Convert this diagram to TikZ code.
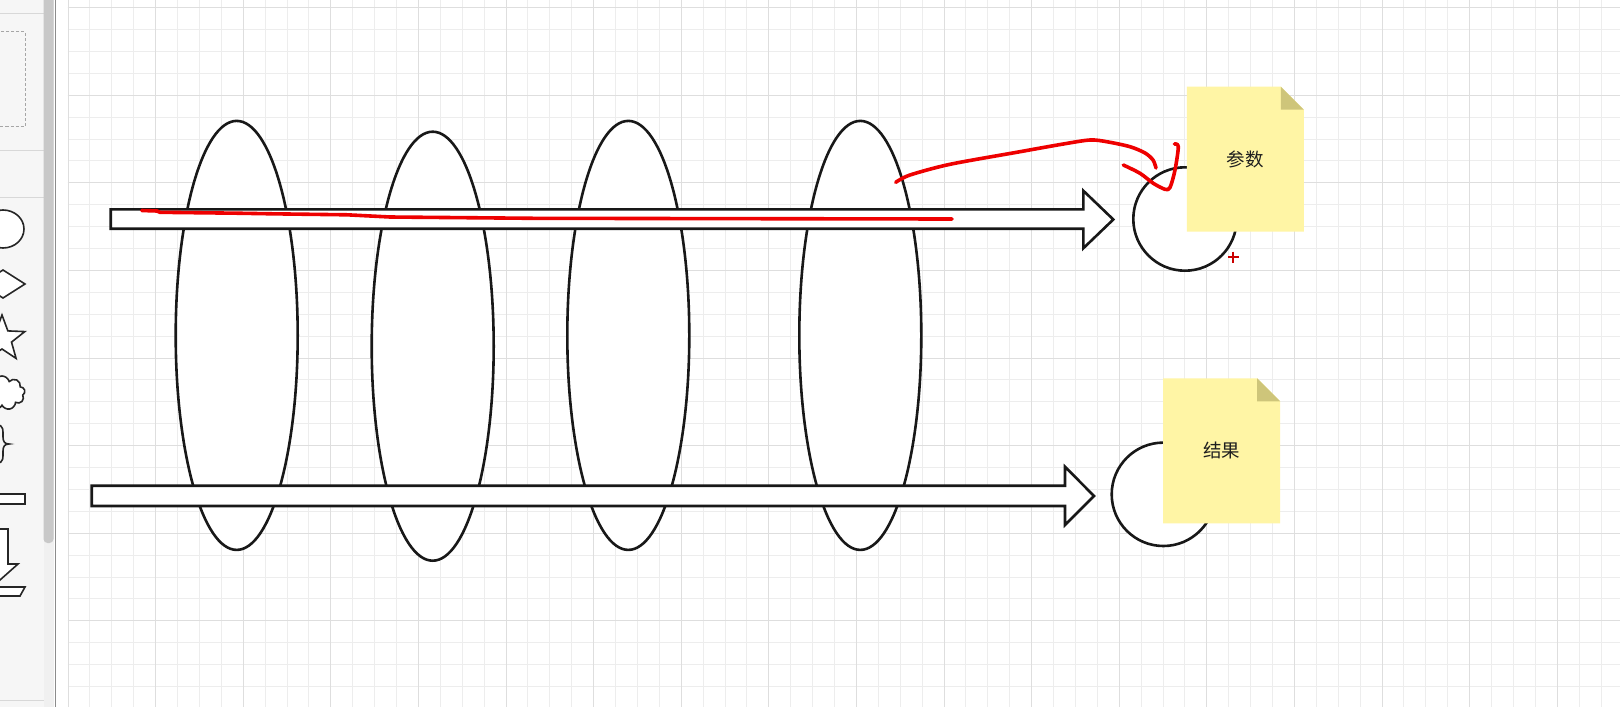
\documentclass[tikz,border=0pt]{standalone}
\usepackage{fontspec}
\newfontfamily\cjk{Noto Sans CJK SC}
\usepackage{tikz}
\usetikzlibrary{shapes.geometric, shapes.symbols}
\usepackage{xcolor}

\definecolor{gridminor}{RGB}{237,237,237}
\definecolor{gridmajor}{RGB}{222,222,222}
\definecolor{notefill}{RGB}{255,245,165}
\definecolor{notefold}{RGB}{206,197,122}
\definecolor{inkred}{RGB}{238,0,0}
\definecolor{panelgray}{RGB}{246,246,246}
\definecolor{panelline}{RGB}{216,216,216}
\definecolor{thumbgray}{RGB}{200,200,200}
\definecolor{outline}{RGB}{24,24,24}

\tikzset{
  hoop/.style={draw=outline, ellipse, fill=white, line width=2.6pt, minimum width=122, minimum height=429, inner sep=0},
  ring/.style={draw=outline, circle, fill=white, line width=2.6pt, minimum size=103.4, inner sep=0},
  blockarrow/.style={draw=outline, fill=white, line width=2.6pt, line join=miter},
  notebox/.style={minimum width=117, minimum height=145, inner sep=0, text=black!88,
    font=\cjk\fontsize{18.5}{20}\selectfont,
    path picture={
      \fill[notefill] (path picture bounding box.north west)
        -- ([xshift=-23pt]path picture bounding box.north east)
        -- ([yshift=-23pt]path picture bounding box.north east)
        -- (path picture bounding box.south east)
        -- (path picture bounding box.south west) -- cycle;
      \fill[notefold] ([xshift=-23pt]path picture bounding box.north east)
        -- ([yshift=-23pt]path picture bounding box.north east)
        -- ([xshift=-23pt,yshift=-23pt]path picture bounding box.north east) -- cycle;
    }},
  inkstroke/.style={draw=inkred, line width=3.6pt, line cap=round, line join=round},
  sideshape/.style={draw=black!85, fill=white, line width=1.6pt}
}

\begin{document}
\begin{tikzpicture}[x=1pt, y=-1pt]
\useasboundingbox (0,0) rectangle (1620,707);
\fill[white] (0,0) rectangle (1620,707);

% canvas grid
\foreach \i in {0,...,70}
  \draw[gridminor] ({67.7+21.9*\i},0) -- ({67.7+21.9*\i},707);
\foreach \j in {0,...,31}
  \draw[gridminor] (67.7,{7.3+21.9*\j}) -- (1620,{7.3+21.9*\j});
\foreach \i in {0,4,...,68}
  \draw[gridmajor] ({67.7+21.9*\i},0) -- ({67.7+21.9*\i},707);
\foreach \j in {0,4,...,28}
  \draw[gridmajor] (67.7,{7.3+21.9*\j}) -- (1620,{7.3+21.9*\j});

% shape panel on the left
\fill[panelgray] (0,0) rectangle (43.5,707);
\draw[panelline] (0,13.5) -- (43.5,13.5) (0,150.5) -- (43.5,150.5) (0,197) -- (43.5,197) (0,700) -- (43.5,700);
\draw[black!35, dash pattern=on 3pt off 2pt] (-5,31.5) rectangle (25,126);
\fill[black!6] (43.5,0) rectangle (53.5,707);
\fill[thumbgray, rounded corners=4pt] (43.5,-10) rectangle (53.5,543);
\draw[black!45, line width=1.5pt] (55.5,0) -- (55.5,707);
\draw[sideshape] (3,229) ellipse [x radius=21, y radius=19];
\draw[sideshape] (3,270) -- (25,284) -- (3,298) -- (-19,284) -- cycle;
\draw[sideshape] (2,315) \foreach \a in {1,...,4} { -- ({2+10*sin(36*(2*\a-1))},{339-10*cos(36*(2*\a-1))}) -- ({2+24*sin(72*\a)},{339-24*cos(72*\a)}) } -- ({2+10*sin(324)},{339-10*cos(324)}) -- cycle;
\node[cloud, sideshape, cloud puffs=9, minimum width=46, minimum height=34, inner sep=0] (cloudicon) at (2,393) {};
\draw[draw=black!85, line width=1.6pt] (-3,425) .. controls (4,425) and (3,431) .. (3,437) .. controls (3,442) and (5,444) .. (9,444) .. controls (5,444) and (3,446) .. (3,451) .. controls (3,457) and (4,463) .. (-3,463);
\draw[sideshape] (-5,494) rectangle (25,504);
\draw[sideshape] (-8,529) -- (8,529) -- (8,564) -- (18,564) -- (0,580) -- (-18,564) -- (-8,564) -- cycle;
\draw[sideshape] (-5,587) -- (25,587) -- (20,596) -- (-5,596) -- cycle;

% four passes
\foreach \n/\x/\y in {1/236.7/335.4, 2/432.7/346.2, 3/628.3/335.4, 4/860.3/335.4}
  \node[hoop] (hoop\n) at (\x,\y) {};

% block arrows
\draw[blockarrow] (110.7,209.3) -- (1083.3,209.3) -- (1083.3,190.7) -- (1113.3,219.5)
  -- (1083.3,248.3) -- (1083.3,228.7) -- (110.7,228.7) -- cycle;
\draw[blockarrow] (91.7,485.7) -- (1065,485.7) -- (1065,466.7) -- (1094,496)
  -- (1065,525) -- (1065,506) -- (91.7,506) -- cycle;

% circles and notes
\node[ring] (argcirc) at (1185,219) {};
\node[ring] (rescirc) at (1163.4,494.3) {};
\node[notebox] (args) at (1245.3,159.2) {参数};
\node[notebox] (result) at (1221.7,450.8) {结果};

% red pen marks
\draw[inkstroke] plot coordinates {(141.7,210.5) (157,211) (160,212.3) (237,213.2) (272,213.8)
  (347,214.8) (390,217) (533,218.3) (700,218.6) (952,219)};
\draw[inkstroke] plot[smooth, tension=0.5] coordinates {(895.7,182.3) (910,175) (950,164.3)
  (1016.7,152.3) (1063.3,144) (1090,140) (1106.7,141.7) (1130,146.7) (1145,153) (1153,160) (1156,168)};
\draw[inkstroke] plot[smooth, tension=0.5] coordinates {(1123.3,165) (1140,173.3) (1153.3,183.3)
  (1165,189.3) (1170,187.5) (1175,170) (1178.3,146.7) (1174.3,144)};
\draw[inkred!85!black, line width=2.2pt] (1228,257.3) -- (1238.6,257.3) (1233.3,251.5) -- (1233.3,263.1);
\end{tikzpicture}
\end{document}
